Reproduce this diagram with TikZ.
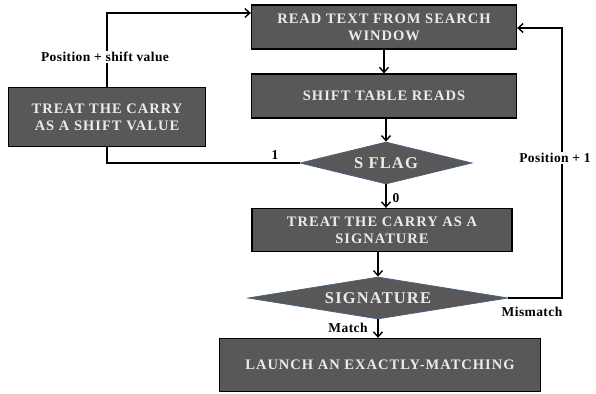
\documentclass[tikz,border=0pt]{standalone}
\usepackage{fontspec}
\setmainfont{Liberation Serif}
\usetikzlibrary{shapes.geometric,arrows.meta,calc}
\definecolor{boxfill}{HTML}{585858}
\definecolor{dmdborder}{HTML}{4A6280}
\begin{document}
\begin{tikzpicture}[x=1pt,y=-1pt,
  stepbox/.style={draw=black,line width=1.3pt,fill=boxfill,text=white!92!black,
    font=\fontsize{14.5}{17}\selectfont\bfseries\addfontfeature{LetterSpace=7},align=center,inner sep=0pt},
  decision/.style={diamond,draw=dmdborder,line width=0.8pt,fill=boxfill,text=white!92!black,
    font=\fontsize{16.5}{18}\selectfont\bfseries\addfontfeature{LetterSpace=7},inner sep=0pt},
  conn/.style={line width=1.4pt,draw=black},
  arr/.style={conn,-{Straight Barb[length=5pt,width=9pt,line width=1.4pt]}},
  lbl/.style={font=\fontsize{13.5}{15}\selectfont\bfseries\addfontfeature{LetterSpace=3},text=black,inner sep=1pt}]
\useasboundingbox (0,0) rectangle (596,393);
\node[stepbox,minimum width=265,minimum height=44] (read) at (384,27) {READ TEXT FROM SEARCH\\WINDOW};
\node[stepbox,minimum width=265,minimum height=44] (shift) at (384,96) {SHIFT TABLE READS};
\node[decision,shape aspect=4,minimum width=172,minimum height=42] (sflag) at (386,163) {S FLAG};
\node[stepbox,minimum width=260,minimum height=43] (treat) at (382,230) {TREAT THE CARRY AS A\\SIGNATURE};
\node[decision,shape aspect=6.2,minimum width=260,minimum height=42] (sig) at (378,298) {SIGNATURE};
\node[stepbox,minimum width=321,minimum height=53] (launch) at (380,365) {LAUNCH AN EXACTLY-MATCHING};
\node[stepbox,minimum width=197,minimum height=59] (left) at (107,117) {TREAT THE CARRY\\AS A SHIFT VALUE};

\coordinate (c1) at (107,13);
\coordinate (c2) at (562,298);
\coordinate (c3) at (562,28);

\draw[arr] (read.south) -- (shift.north);
\draw[arr] (shift.south -| sflag.north) -- (sflag.north);
\draw[arr] (sflag.south) -- (sflag.south |- treat.north);
\draw[arr] (treat.south -| sig.north) -- (sig.north);
\draw[arr] (sig.south) -- (sig.south |- launch.north);

\draw[arr] (left.north) -- (c1) -- (c1 -| read.west);
\draw[conn] (left.south) |- (sflag.west);
\draw[arr] (sig.east) -- (c2) -- (c3) -- (c3 -| read.east);

\node[lbl,fill=white] (l1) at (105,57) {Position + shift value};
\node[lbl] (l2) at (275,155) {1};
\node[lbl,fill=white] (l3) at (555,158) {Position + 1};
\node[lbl] (l4) at (396,198) {0};
\node[lbl] (l5) at (348,328) {Match};
\node[lbl] (l6) at (532,312) {Mismatch};
\end{tikzpicture}
\end{document}
